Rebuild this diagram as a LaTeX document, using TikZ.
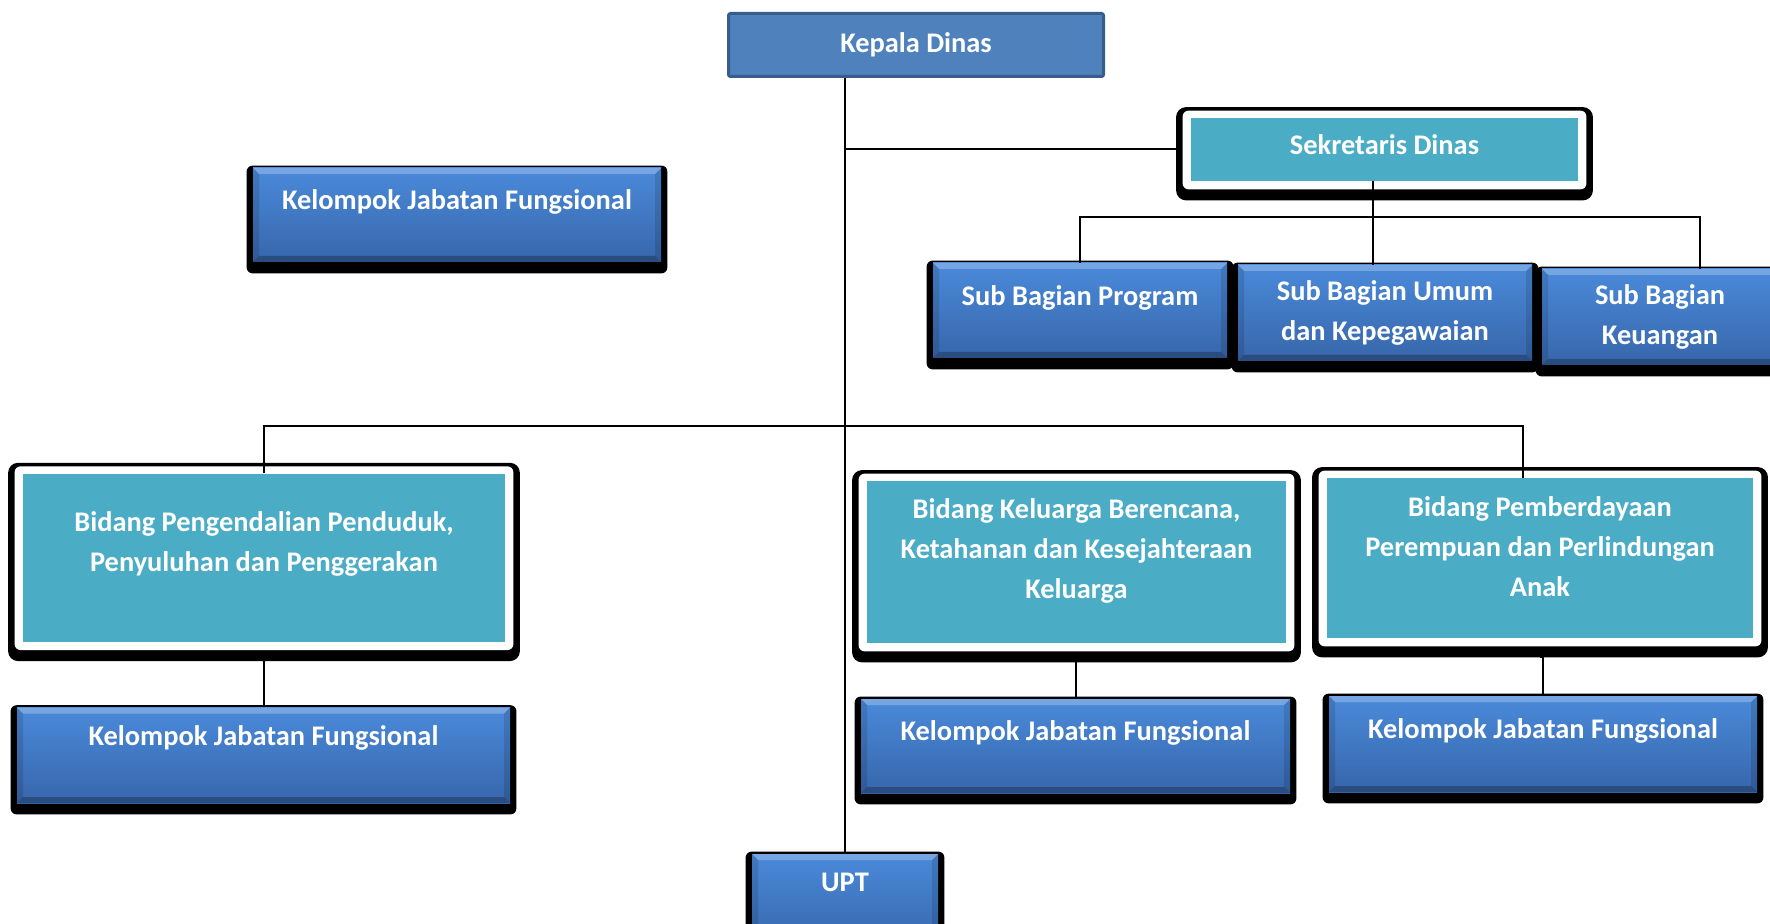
\documentclass[tikz,border=0pt]{standalone}
\usepackage{fontspec}
\setmainfont{Carlito}
\usepackage{xcolor}
\usetikzlibrary{backgrounds}

\definecolor{kepalablue}{HTML}{4F81BD}
\definecolor{kepalaline}{HTML}{385D8A}
\definecolor{bidangteal}{HTML}{4BACC6}
\definecolor{glosstop}{HTML}{4A8ADA}
\definecolor{glossbot}{HTML}{3766AA}

\newcommand{\padlow}[1]{\rule[-#1]{0pt}{0pt}}
\newcommand{\boxfont}{\fontsize{14.2}{19.8}\selectfont\bfseries}

\tikzset{
  head/.style={rectangle, rounded corners=1pt, fill=kepalablue, draw=kepalaline,
    line width=1.5pt, text=white, font=\boxfont, inner sep=0pt},
  bidang/.style={rectangle, fill=bidangteal, text=white, font=\boxfont,
    align=center, inner sep=0pt},
  gloss/.style={rectangle, top color=glosstop, bottom color=glossbot, text=white,
    font=\boxfont, align=center, inner sep=0pt,
    path picture={
      \fill[white, opacity=.25] (path picture bounding box.north west) -- (path picture bounding box.north east)
        -- ([shift={(-3pt,-3pt)}]path picture bounding box.north east) -- ([shift={(3pt,-3pt)}]path picture bounding box.north west) -- cycle;
      \fill[black, opacity=.25] (path picture bounding box.south west) -- (path picture bounding box.south east)
        -- ([shift={(-3pt,3pt)}]path picture bounding box.south east) -- ([shift={(3pt,3pt)}]path picture bounding box.south west) -- cycle;
      \fill[black, opacity=.12] (path picture bounding box.north west) -- ([shift={(3pt,-3pt)}]path picture bounding box.north west)
        -- ([shift={(3pt,3pt)}]path picture bounding box.south west) -- (path picture bounding box.south west) -- cycle;
      \fill[black, opacity=.12] (path picture bounding box.north east) -- ([shift={(-3pt,-3pt)}]path picture bounding box.north east)
        -- ([shift={(-3pt,3pt)}]path picture bounding box.south east) -- (path picture bounding box.south east) -- cycle;
    }},
  conn/.style={draw=black, line width=1pt}
}

\begin{document}
\begin{tikzpicture}[x=0.5pt, y=-0.5pt]
    \useasboundingbox (0,0) rectangle (1770,924);
    \clip (0,0) rectangle (1770,924);

    % Pimpinan
    \node[head, minimum width=187.5pt, minimum height=31.5pt] (kepala) at (916,45) {Kepala Dinas};
    \node[bidang, minimum width=193.5pt, minimum height=31.5pt] (sekr) at (1384.5,149.5) {Sekretaris Dinas\padlow{5pt}};

    % Sub bagian sekretariat
    \node[gloss, minimum width=147pt, minimum height=47.5pt] (subProg) at (1080,310.5) {Sub Bagian Program\padlow{15pt}};
    \node[gloss, minimum width=147pt, minimum height=48pt] (subUmum) at (1385,313) {Sub Bagian Umum\\dan Kepegawaian};
    \node[gloss, minimum width=118pt, minimum height=48pt] (subKeu) at (1660,317) {Sub Bagian\\Keuangan};

    % Kelompok jabatan fungsional di bawah kepala
    \node[gloss, minimum width=204pt, minimum height=47pt] (kjfTop) at (457,215) {Kelompok Jabatan Fungsional\padlow{15pt}};

    % Bidang
    \node[bidang, minimum width=241pt, minimum height=84pt] (bidL) at (264,557.7) {Bidang Pengendalian Penduduk,\\Penyuluhan dan Penggerakan\padlow{16pt}};
    \node[bidang, minimum width=209.5pt, minimum height=81pt] (bidM) at (1076.5,562) {Bidang Keluarga Berencana,\\Ketahanan dan Kesejahteraan\\Keluarga\padlow{13.5pt}};
    \node[bidang, minimum width=213pt, minimum height=80pt] (bidR) at (1540,558) {Bidang Pemberdayaan\\Perempuan dan Perlindungan\\Anak\padlow{11.5pt}};

    % Kelompok jabatan fungsional tiap bidang
    \node[gloss, minimum width=246.5pt, minimum height=47.7pt] (kjfLeft) at (263.5,755.3) {Kelompok Jabatan Fungsional\padlow{19.5pt}};
    \node[gloss, minimum width=214.5pt, minimum height=47pt] (kjfMid) at (1075.5,746) {Kelompok Jabatan Fungsional\padlow{15pt}};
    \node[gloss, minimum width=214pt, minimum height=48pt] (kjfRight) at (1543,744) {Kelompok Jabatan Fungsional\padlow{15pt}};

    % UPT
    \node[gloss, minimum width=93pt, minimum height=47pt] (upt) at (845,901) {UPT\padlow{18.5pt}};

    % Frames and shadows
    \begin{scope}[on background layer]
        \foreach \n in {sekr,bidL,bidM,bidR} {
            \fill[black, rounded corners=5pt] ([shift={(-7.25pt,5.25pt)}]\n.north west) rectangle ([shift={(7.25pt,-9.5pt)}]\n.south east);
            \fill[white, rounded corners=3pt] ([shift={(-4pt,3.5pt)}]\n.north west) rectangle ([shift={(4pt,-4pt)}]\n.south east);
        }
        \foreach \n in {subProg,subUmum,subKeu,kjfTop,kjfLeft,kjfMid,kjfRight,upt}
            \fill[black, rounded corners=3pt] ([shift={(-3pt,1pt)}]\n.north west) rectangle ([shift={(3pt,-5.5pt)}]\n.south east);
    \end{scope}

    % Garis komando
    \coordinate (subbus) at (1373,217);
    \coordinate (mainbus) at (843,426);
    \draw[conn] (upt.north |- kepala.south) -- (upt.north);
    \draw[conn] (upt.north |- sekr.west) -- ([xshift=-7.25pt]sekr.west);
    \draw[conn] (sekr.south -| subbus) -- (subUmum.north -| subbus);
    \draw[conn] (subProg.north) |- (subbus) -| ([xshift=20pt]subKeu.north);
    \draw[conn] (bidL.north) |- (mainbus) -| ([xshift=-8.5pt]bidR.north);
    \draw[conn] (kjfLeft.north) |- ([yshift=-9.5pt]bidL.south);
    \draw[conn] (kjfMid.north) |- ([yshift=-9.5pt]bidM.south);
    \draw[conn] (kjfRight.north) |- ([yshift=-9.5pt]bidR.south);
\end{tikzpicture}
\end{document}
